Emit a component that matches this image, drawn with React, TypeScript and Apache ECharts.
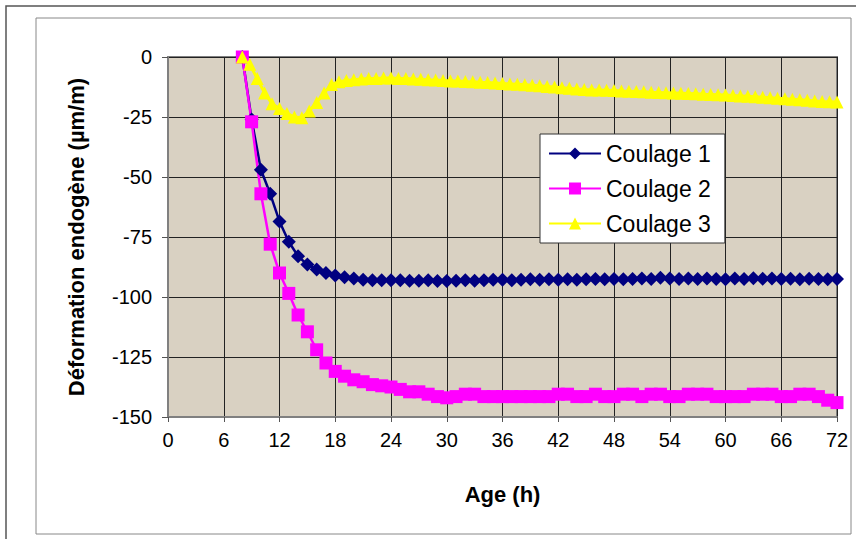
import React, { useEffect, useRef } from "react";
import * as echarts from "echarts";

const hours = [8, 9, 10, 11, 12, 13, 14, 15, 16, 17, 18, 19, 20, 21, 22, 23, 24, 25, 26, 27, 28, 29, 30, 31, 32, 33, 34, 35, 36, 37, 38, 39, 40, 41, 42, 43, 44, 45, 46, 47, 48, 49, 50, 51, 52, 53, 54, 55, 56, 57, 58, 59, 60, 61, 62, 63, 64, 65, 66, 67, 68, 69, 70, 71, 72];

const coulage1 = [0, -26, -47, -57, -68.5, -77, -83, -86.5, -88.5, -90, -91, -91.8, -92.3, -92.8, -93, -93, -93, -93, -93.2, -93.2, -93, -93.3, -93.3, -93.2, -93, -93.2, -93, -92.8, -92.8, -93, -92.8, -92.6, -92.8, -92.6, -92.8, -92.6, -92.8, -92.6, -92.5, -92.6, -92.5, -92.6, -92.5, -92.3, -92.5, -92.0, -92.3, -92.5, -92.3, -92.5, -92.3, -92.5, -92.6, -92.3, -92.5, -92.2, -92.4, -92.3, -92.5, -92.4, -92.6, -92.4, -92.5, -92.6, -92.5];

const coulage2 = [0, -27, -57, -78, -90, -98.5, -107.5, -114.5, -122, -127.5, -131, -133, -134.5, -135.3, -136.5, -137, -137.5, -138.5, -139.5, -139.5, -140.5, -141.5, -142, -141.5, -140.5, -140.5, -141.5, -141.5, -141.5, -141.5, -141.5, -141.5, -141.5, -141.5, -140.5, -140.5, -141.5, -141.5, -140.5, -141.5, -141.5, -140.5, -140.5, -141.5, -140.5, -140.5, -141.5, -141.5, -140.5, -140.5, -140.5, -141.5, -141.5, -141.5, -141.5, -140.5, -140.5, -140.5, -141.5, -141.5, -140.5, -140.5, -141.5, -143, -144];

const hours3 = [8, 8.8, 9.6, 10.4, 11.2, 12, 12.8, 13.6, 14.4, 15.2, 16, 16.8, 17.6, 18.4, 19.2, 20, 20.8, 21.6, 22.4, 23.2, 24, 24.8, 25.6, 26.4, 27.2, 28, 28.8, 29.6, 30.4, 31.2, 32, 32.8, 33.6, 34.4, 35.2, 36, 36.8, 37.6, 38.4, 39.2, 40, 40.8, 41.6, 42.4, 43.2, 44, 44.8, 45.6, 46.4, 47.2, 48, 48.8, 49.6, 50.4, 51.2, 52, 52.8, 53.6, 54.4, 55.2, 56, 56.8, 57.6, 58.4, 59.2, 60, 60.8, 61.6, 62.4, 63.2, 64, 64.8, 65.6, 66.4, 67.2, 68, 68.8, 69.6, 70.4, 71.2, 72];

const coulage3 = [0, -3, -9, -15, -19.5, -21.5, -23.5, -25, -25.3, -22.5, -19, -15, -11.5, -10.3, -9.8, -9.5, -9.2, -9, -9, -8.8, -8.8, -9, -9, -9.2, -9.3, -9.5, -9.6, -9.8, -10, -10, -10.2, -10.3, -10.5, -10.6, -10.8, -11, -11.2, -11.4, -11.6, -11.8, -12, -12.3, -12.5, -12.8, -13, -13.3, -13.5, -13.7, -13.8, -13.9, -14, -14.2, -14.3, -14.4, -14.5, -14.7, -14.8, -14.9, -15, -15.1, -15.2, -15.3, -15.5, -15.6, -15.7, -15.8, -16, -16.2, -16.4, -16.6, -16.8, -17, -17.2, -17.4, -17.6, -17.8, -18, -18.3, -18.5, -18.6, -18.7];

const seriesNames = ["Coulage 1", "Coulage 2", "Coulage 3"];
const xTitle = "Age (h)";
const yTitle = "Déformation endogène (µm/m)";

const FONT = "'Liberation Sans', Arial, sans-serif";

export default function App() {
  const ref = useRef<HTMLDivElement>(null);
  useEffect(() => {
    if (!ref.current) return;
    const chart = echarts.init(ref.current, undefined, { renderer: "svg" });
    const pair = (xs: number[], ys: number[]) => ys.map((v, i) => [xs[i], v]);
    chart.setOption({
      animation: false,
      backgroundColor: "#ffffff",
      textStyle: { fontFamily: FONT },
      graphic: [
        { type: "rect", shape: { x: 6, y: 6, width: 860, height: 545 }, style: { fill: "none", stroke: "#555", lineWidth: 1.5 }, silent: true },
        { type: "rect", shape: { x: 36, y: 18, width: 815, height: 516 }, style: { fill: "none", stroke: "#888", lineWidth: 1 }, silent: true },
      ],
      grid: {
        left: 168,
        top: 57,
        width: 669,
        height: 360,
        show: true,
        backgroundColor: "#d9d1c2",
        borderColor: "#808080",
        borderWidth: 2,
      },
      legend: {
        orient: "vertical",
        left: 540,
        top: 134,
        backgroundColor: "#ffffff",
        borderColor: "#333",
        borderWidth: 1,
        padding: [8, 14, 8, 8],
        itemWidth: 52,
        itemHeight: 15,
        itemGap: 12,
        textStyle: { fontSize: 23, color: "#000", fontFamily: FONT },
        data: seriesNames,
      },
      xAxis: {
        type: "value",
        min: 0,
        max: 72,
        interval: 6,
        name: xTitle,
        nameLocation: "middle",
        nameGap: 66,
        nameTextStyle: { fontSize: 22, fontWeight: "bold", color: "#000", fontFamily: FONT },
        axisLine: { show: true, onZero: false, lineStyle: { color: "#808080", width: 2 } },
        axisTick: { show: true, inside: false, length: 5, lineStyle: { color: "#555" } },
        axisLabel: { fontSize: 20, color: "#000", margin: 13, fontFamily: FONT },
        splitLine: { show: true, lineStyle: { color: "#222", width: 1 } },
      },
      yAxis: {
        type: "value",
        min: -150,
        max: 0,
        interval: 25,
        name: yTitle,
        nameLocation: "middle",
        nameRotate: 90,
        nameGap: 81,
        nameTextStyle: { fontSize: 22, fontWeight: "bold", color: "#000", fontFamily: FONT },
        axisLine: { show: true, onZero: false, lineStyle: { color: "#808080", width: 2 } },
        axisTick: { show: true, inside: false, length: 6, lineStyle: { color: "#555" } },
        axisLabel: { fontSize: 20, color: "#000", margin: 16, fontFamily: FONT },
        splitLine: { show: true, lineStyle: { color: "#222", width: 1 } },
      },
      series: [
        {
          name: seriesNames[0],
          type: "line",
          data: pair(hours, coulage1),
          symbol: "diamond",
          symbolSize: 14,
          color: "#000080",
          lineStyle: { color: "#000080", width: 2.5 },
          itemStyle: { color: "#000080" },
        },
        {
          name: seriesNames[1],
          type: "line",
          data: pair(hours, coulage2),
          symbol: "rect",
          symbolSize: 13,
          color: "#ff00ff",
          lineStyle: { color: "#ff00ff", width: 2.5 },
          itemStyle: { color: "#ff00ff" },
        },
        {
          name: seriesNames[2],
          type: "line",
          data: pair(hours3, coulage3),
          symbol: "triangle",
          symbolSize: 13,
          color: "#ffff00",
          lineStyle: { color: "#ffff00", width: 3 },
          itemStyle: { color: "#ffff00" },
        },
      ],
    });
    return () => chart.dispose();
  }, []);
  return <div ref={ref} style={{ position: "absolute", left: 0, top: 0, width: 856, height: 539 }} />;
}
